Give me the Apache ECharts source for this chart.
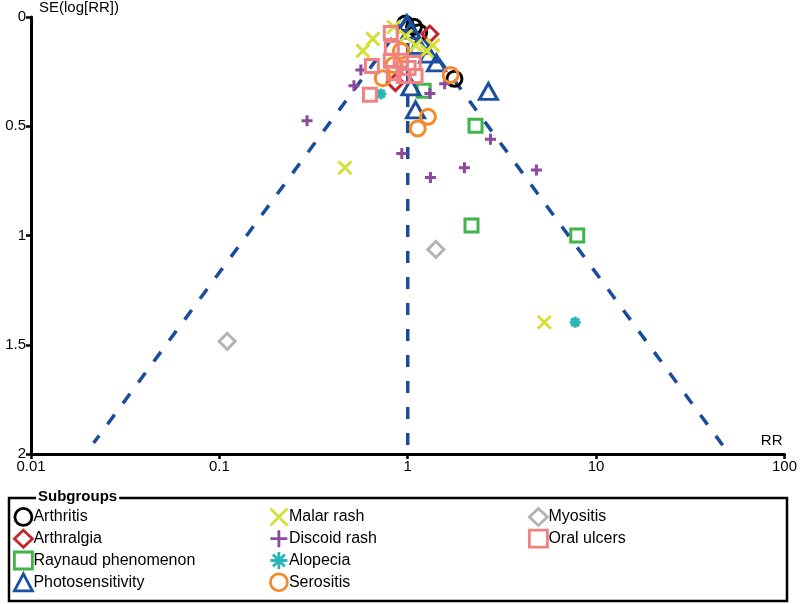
<!DOCTYPE html>
<html>
<head>
<meta charset="utf-8">
<script src="https://cdn.jsdelivr.net/npm/echarts@6/dist/echarts.min.js"></script>
<style>html,body{margin:0;padding:0;background:#fff;}#c{width:800px;height:604px;}</style>
</head>
<body>
<div id="c"></div>
<script>
// ---- data: [RR, SE(log RR)] ----
const arthritis = [[0.97,0.03],[1.08,0.045],[1.15,0.07],[1.77,0.283]];
const arthralgia = [[1.31,0.078],[0.86,0.30]];
const raynaud = [[2.18,0.954],[7.94,1.0],[2.29,0.498],[1.215,0.338]];
const photosensitivity = [[0.99,0.03],[1.04,0.06],[1.14,0.13],[1.29,0.17],[1.42,0.21],[1.04,0.32],[1.10,0.425],[2.68,0.34]];
const malarRash = [[0.578,0.155],[0.653,0.10],[0.843,0.046],[0.976,0.087],[1.10,0.13],[1.26,0.155],[1.36,0.13],[0.464,0.69],[5.31,1.397]];
const discoidRash = [[0.292,0.475],[0.518,0.315],[0.564,0.242],[0.93,0.625],[1.32,0.735],[2.0,0.69],[2.75,0.56],[4.82,0.70],[1.57,0.306],[1.31,0.35]];
const alopecia = [[0.72,0.352],[7.74,1.397]];
const serositis = [[1.13,0.51],[1.28,0.457],[1.69,0.265],[0.737,0.28],[0.84,0.22],[0.92,0.155]];
const myositis = [[0.110,1.484],[1.41,1.064]];
const oralUlcers = [[0.813,0.073],[0.823,0.142],[0.813,0.20],[0.645,0.224],[0.918,0.20],[1.076,0.21],[1.10,0.27],[0.952,0.27],[0.843,0.256],[1.01,0.233],[0.63,0.356]];

// funnel guide lines
const funnelCentre = [[1,0],[1,1.96]];
const funnelLeft = [[1,0],[0.0215,1.95]];
const funnelRight = [[1,0],[47,1.96]];

const xTicks = [0.01,0.1,1,10,100];
const yTicks = [0,0.5,1,1.5,2];

const groupNames = ['Arthritis','Arthralgia','Raynaud phenomenon','Photosensitivity','Malar rash','Discoid rash','Alopecia','Serositis','Myositis','Oral ulcers'];
const groupData = [arthritis,arthralgia,raynaud,photosensitivity,malarRash,discoidRash,alopecia,serositis,myositis,oralUlcers];
const groupColors = ['#000000','#c1272d','#3fb44a','#1d4f9f','#d5df3a','#8c4a9d','#29b6b6','#f58a2c','#b3b3b3','#f08282'];
const groupSymbols = ['circle','diamond','rect','triangle',
  'path://M0,0 L10,10 M10,0 L0,10',
  'path://M5,0 L5,10 M0,5 L10,5',
  'path://M0,5 L10,5 M5,0 L5,10 M1.5,1.5 L8.5,8.5 M8.5,1.5 L1.5,8.5',
  'circle','diamond','rect'];
const groupSizes = [15,16,13,[18,16],13,11,11,15,16,13];

const FONT = "'Liberation Sans', Arial, sans-serif";
const chart = echarts.init(document.getElementById('c'));

const series = [];
const lineStyle = {color:'#1a4c9c', width:3.5, type:[12,14]};
[funnelCentre, funnelLeft, funnelRight].forEach(d => {
  series.push({type:'line', data:d, symbol:'none', silent:true, z:1, lineStyle:lineStyle, animation:false});
});
groupNames.forEach((n,i) => {
  series.push({
    name:n, type:'scatter', data:groupData[i], symbol:groupSymbols[i], symbolSize:groupSizes[i],
    z:2, animation:false,
    itemStyle:{color:'rgba(0,0,0,0)', borderColor:groupColors[i], borderWidth:3, opacity:1}
  });
});

function legendCol(left, names){
  return {
    data:names, orient:'vertical', left:left, top:507, height:96, itemWidth:18, itemHeight:17, itemGap:2,
    selectedMode:false, padding:0,
    itemStyle:{borderWidth:2.8},
    textStyle:{fontFamily:FONT, fontSize:16, color:'#000', padding:[0,0,0,-4]}
  };
}

chart.setOption({
  backgroundColor:'#fff',
  animation:false,
  title:{text:'Subgroups', left:36, top:489, padding:[0,2], backgroundColor:'#fff',
    textStyle:{fontFamily:FONT, fontSize:15, fontWeight:'bold', color:'#000'}},
  graphic:[{type:'rect', shape:{x:9, y:498, width:778, height:103}, style:{fill:'none', stroke:'#000', lineWidth:2.5}, z:0}],
  legend:[
    legendCol(13, ['Arthritis','Arthralgia','Raynaud phenomenon','Photosensitivity']),
    legendCol(269, ['Malar rash','Discoid rash','Alopecia','Serositis']),
    legendCol(528, ['Myositis','Oral ulcers'])
  ],
  grid:{left:31, right:13, top:16, bottom:150},
  xAxis:{type:'log', logBase:10, min:xTicks[0], max:xTicks[xTicks.length-1], position:'bottom',
    name:'RR', nameLocation:'end', nameGap:-2,
    nameTextStyle:{fontFamily:FONT, fontSize:15, color:'#000', align:'right', verticalAlign:'bottom', padding:[0,0,6,0]},
    axisLine:{onZero:false, lineStyle:{color:'#000', width:3}},
    axisTick:{show:true, length:5, lineStyle:{color:'#000', width:2.5}},
    minorTick:{show:false},
    splitLine:{show:false},
    axisLabel:{fontFamily:FONT, fontSize:15, color:'#000', margin:5,
      formatter:v => { const t = xTicks.find(x => Math.abs(x - v)/x < 1e-6); return t === undefined ? '' : String(t); }}
  },
  yAxis:{type:'value', inverse:true, min:yTicks[0], max:yTicks[yTicks.length-1], interval:0.5, position:'left',
    name:'SE(log[RR])', nameLocation:'start', nameGap:2,
    nameTextStyle:{fontFamily:FONT, fontSize:15, color:'#000', align:'left', verticalAlign:'bottom', padding:[0,0,0,8]},
    axisLine:{show:true, onZero:false, lineStyle:{color:'#000', width:3}},
    axisTick:{show:true, length:5, lineStyle:{color:'#000', width:2.5}},
    splitLine:{show:false},
    axisLabel:{fontFamily:FONT, fontSize:15, color:'#000', margin:5}
  },
  series:series
});
</script>
</body>
</html>
